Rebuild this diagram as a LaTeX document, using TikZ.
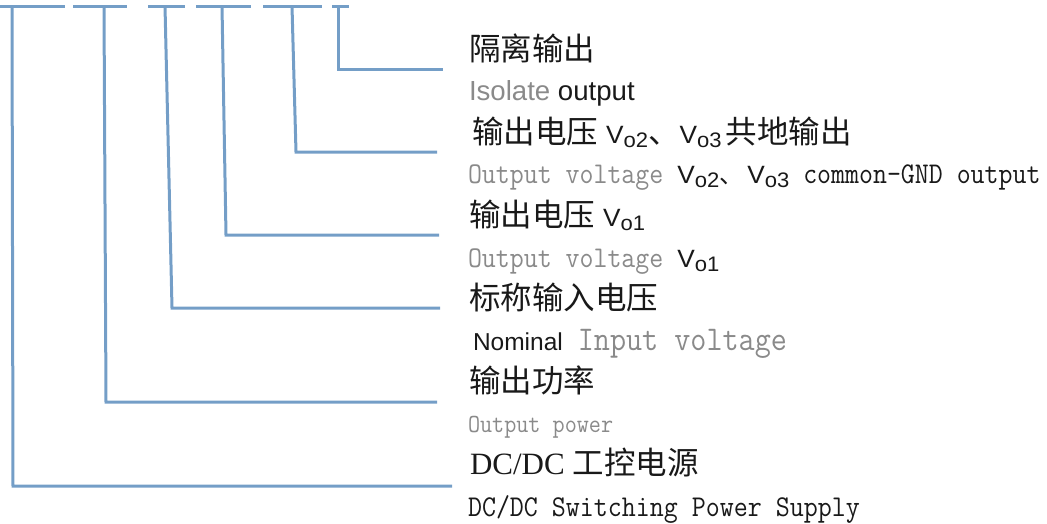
\documentclass[tikz,border=0pt]{standalone}
\usepackage{fontspec}
\setmainfont{Liberation Serif}
\setmonofont{Latin Modern Mono}[FakeStretch=0.9]
\newfontfamily\cjk{Noto Sans CJK SC}
\newfontfamily\arial{Liberation Sans}
\newfontfamily\arialw{Liberation Sans}[FakeStretch=1.05]
\definecolor{lineblue}{RGB}{116,158,199}
\definecolor{txtgrey}{RGB}{138,138,138}
\definecolor{txtdark}{RGB}{25,25,25}
\newcommand\fsz[1]{\fontsize{#1}{#1}\selectfont}
\newcommand\Vsub[1]{{\arialw\fsz{25}\color{txtdark}V\raisebox{-4pt}{\fsz{21}#1}}}
\newcommand\cjktxt[1]{{\cjk\fsz{31.5}\color{txtdark}#1}}
\newcommand\mono[2]{{\ttfamily\fsz{#1}#2}}
\tikzset{
  conn/.style={draw=lineblue, line width=3pt, line join=miter},
  bar/.style={draw=lineblue, line width=3pt},
  lbl/.style={anchor=base west, inner sep=0pt, outer sep=0pt, text=txtdark},
}
\begin{document}
\begin{tikzpicture}[x=1pt,y=-1pt]
\useasboundingbox (0,0) rectangle (1047,523);
% top underline bars
\draw[bar] (0,6) -- (65,6);
\draw[bar] (73,6) -- (127,6);
\draw[bar] (148,6) -- (185,6);
\draw[bar] (196,6) -- (251,6);
\draw[bar] (263,6) -- (322,6);
\draw[bar] (332,6) -- (349,6);
% connector coordinates
\coordinate (t1) at (12,6);   \coordinate (k1) at (13,486);  \coordinate (e1) at (452,486);
\coordinate (t2) at (104,6);  \coordinate (k2) at (106,402); \coordinate (e2) at (437,402);
\coordinate (t3) at (165,6);  \coordinate (k3) at (172,308); \coordinate (e3) at (440,308);
\coordinate (t4) at (222,6);  \coordinate (k4) at (226,235); \coordinate (e4) at (439,235);
\coordinate (t5) at (292,6);  \coordinate (k5) at (296,152); \coordinate (e5) at (437,152);
\coordinate (t6) at (338,6);  \coordinate (k6) at (338,69);  \coordinate (e6) at (443,69);
\draw[conn] (t1) -- (k1) -- (e1);
\draw[conn] (t2) -- (k2) -- (e2);
\draw[conn] (t3) -- (k3) -- (e3);
\draw[conn] (t4) -- (k4) -- (e4);
\draw[conn] (t5) -- (k5) -- (e5);
\draw[conn] (t6) -- (k6) -- (e6);
% labels
\node[lbl] (cn6) at (469,60) {\cjktxt{隔离输出}};
\node[lbl] (en6) at (469,100) {\arial\fsz{27.6}\textcolor{txtgrey}{Isolate} output};
\node[lbl] (cn5) at (472,143) {\cjktxt{输出电压}\hspace{8pt}\Vsub{o2}\cjktxt{、}\Vsub{o3}\hspace{4pt}\cjktxt{共地输出}};
\node[lbl] (en5) at (468,183) {\mono{30.1}{\color{txtgrey}Output voltage\ }\Vsub{o2}{\cjk\fsz{24}、}\hspace{4pt}\Vsub{o3}\mono{30.1}{\ common-GND output}};
\node[lbl] (cn4) at (469,226) {\cjktxt{输出电压}\hspace{8pt}\Vsub{o1}};
\node[lbl] (en4) at (468,267) {\mono{30.1}{\color{txtgrey}Output voltage\ }\Vsub{o1}};
\node[lbl] (cn3) at (469,309) {\cjktxt{标称输入电压}};
\node[lbl] (en3) at (473,350) {\arial\fsz{24.5}Nominal\hspace{15pt}\mono{34.7}{\color{txtgrey}Input voltage}};
\node[lbl] (cn2) at (469,392) {\cjktxt{输出功率}};
\node[lbl] (en2) at (468,432) {\mono{26.1}{\color{txtgrey}Output power}};
\node[lbl] (cn1) at (470,474) {{\fsz{31}DC/DC}\hspace{8pt}\cjktxt{工控电源}};
\node[lbl] (en1) at (468,516) {\mono{30.2}{DC/DC Switching Power Supply}};
\end{tikzpicture}
\end{document}
